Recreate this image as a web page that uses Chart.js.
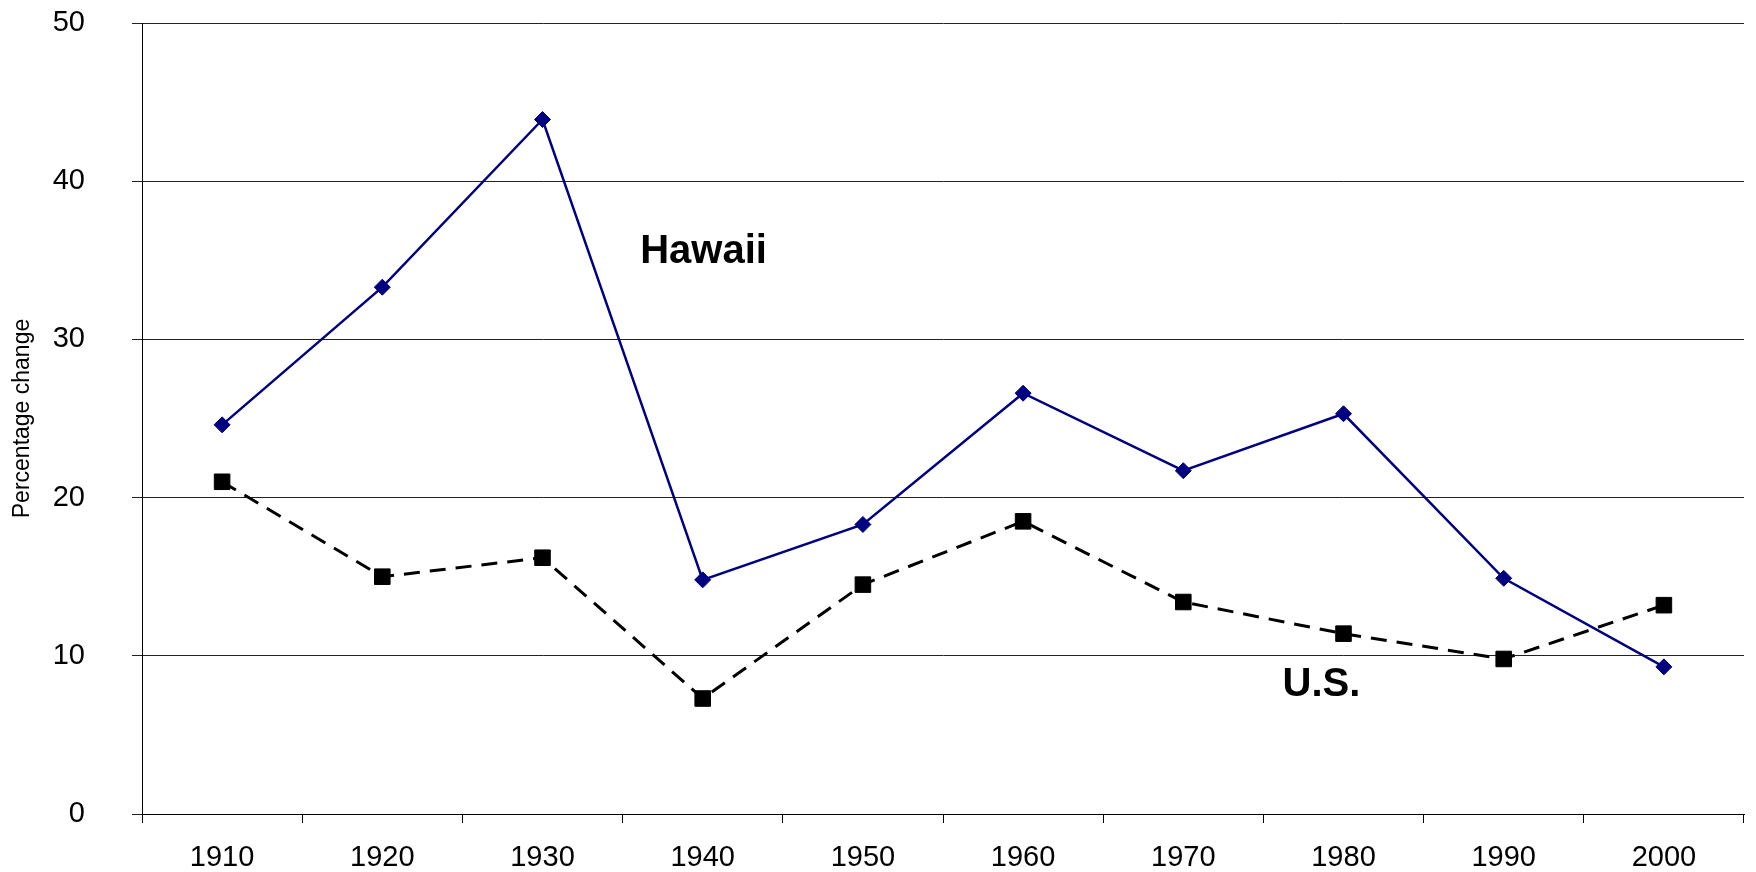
<!DOCTYPE html>
<html>
<head>
<meta charset="utf-8">
<script src="https://cdn.jsdelivr.net/npm/chart.js@4/dist/chart.umd.min.js"></script>
<style>
  html, body { margin: 0; padding: 0; background: #fff; }
  #wrap { width: 1756px; height: 872px; position: relative; }
</style>
</head>
<body>
<div id="wrap"><canvas id="c" width="1756" height="872"></canvas></div>
<script>
const years = ['1910','1920','1930','1940','1950','1960','1970','1980','1990','2000'];
const hawaii = [24.6, 33.3, 43.9, 14.8, 18.3, 26.6, 21.7, 25.3, 14.9, 9.3];
const us = [21.0, 15.0, 16.2, 7.3, 14.5, 18.5, 13.4, 11.4, 9.8, 13.2];
const yTicks = [0, 10, 20, 30, 40, 50];
const seriesLabels = ['Hawaii', 'U.S.'];
const axisTitle = 'Percentage change';

const labelPlugin = {
  id: 'seriesLabels',
  afterDatasetsDraw(chart) {
    const {ctx, scales: {x, y}} = chart;
    ctx.save();
    ctx.fillStyle = '#000';
    ctx.font = 'bold 40px "Liberation Sans", Arial, sans-serif';
    ctx.textAlign = 'left';
    ctx.textBaseline = 'alphabetic';
    ctx.fillText(seriesLabels[0], x.getPixelForValue(2.61), y.getPixelForValue(34.8));
    ctx.fillText(seriesLabels[1], x.getPixelForValue(6.62), y.getPixelForValue(7.45));
    ctx.restore();
  }
};

new Chart(document.getElementById('c'), {
  type: 'line',
  data: {
    labels: years,
    datasets: [
      {
        label: seriesLabels[0],
        data: hawaii,
        borderColor: '#000080',
        backgroundColor: '#000080',
        borderWidth: 2.5,
        pointStyle: 'rectRot',
        pointRadius: 8,
        pointBorderWidth: 1,
        pointBackgroundColor: '#000080',
        pointBorderColor: '#000080',
        tension: 0
      },
      {
        label: seriesLabels[1],
        data: us,
        borderColor: '#000',
        backgroundColor: '#000',
        borderWidth: 3,
        borderDash: [16, 10],
        pointStyle: 'rect',
        pointRadius: 11,
        pointBorderWidth: 1,
        pointBackgroundColor: '#000',
        pointBorderColor: '#000',
        tension: 0
      }
    ]
  },
  options: {
    responsive: false,
    animation: false,
    devicePixelRatio: 1,
    layout: { padding: { top: 23, right: 2, left: 0, bottom: 0 } },
    plugins: {
      legend: { display: false },
      tooltip: { enabled: false }
    },
    scales: {
      x: {
        offset: true,
        grid: {
          offset: true,
          drawOnChartArea: false,
          drawTicks: true,
          tickLength: 9,
          color: '#000',
          lineWidth: 1
        },
        border: { display: true, color: '#000', width: 1 },
        ticks: {
          color: '#000',
          padding: 18,
          maxRotation: 0,
          autoSkip: false,
          font: { family: '"Liberation Sans", Arial, sans-serif', size: 29 }
        },
        afterFit(s) { s.height = 58; s.paddingLeft = 0; s.paddingRight = 0; }
      },
      y: {
        min: 0,
        max: 50,
        afterBuildTicks(s) { s.ticks = yTicks.map(v => ({ value: v })); },
        grid: {
          drawOnChartArea: true,
          drawTicks: true,
          tickLength: 10,
          color: '#222',
          lineWidth: 1
        },
        border: { display: true, color: '#000', width: 1 },
        ticks: {
          color: '#000',
          padding: 47,
          font: { family: '"Liberation Sans", Arial, sans-serif', size: 29 }
        },
        title: {
          display: true,
          text: axisTitle,
          color: '#000',
          padding: { top: 9, bottom: 0 },
          font: { family: '"Liberation Sans", Arial, sans-serif', size: 23 }
        },
        afterFit(s) { s.width = 142; s.paddingTop = 0; s.paddingBottom = 0; }
      }
    }
  },
  plugins: [labelPlugin]
});
</script>
</body>
</html>
